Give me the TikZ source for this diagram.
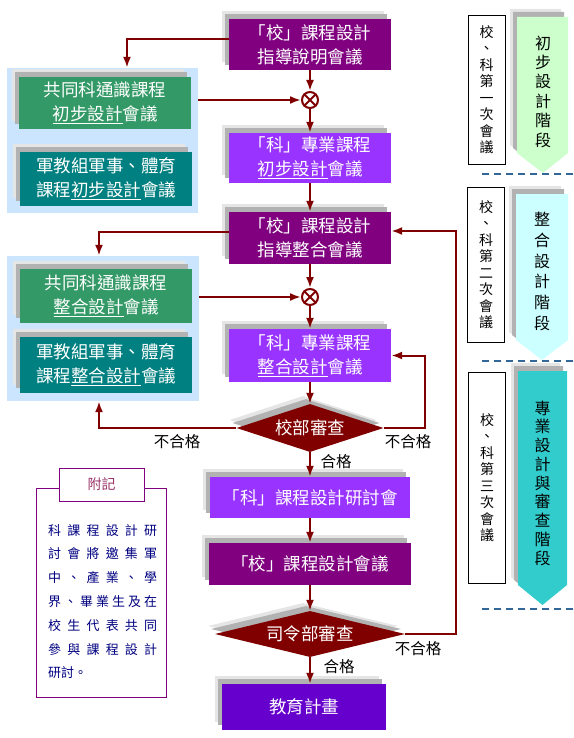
\documentclass[tikz,border=0pt]{standalone}
\usepackage{fontspec}
\setmainfont{Noto Sans CJK TC}
\usetikzlibrary{arrows.meta,shapes.geometric,shadows}
\definecolor{schpurple}{HTML}{800080}
\definecolor{deppurple}{HTML}{9933FF}
\definecolor{edupurple}{HTML}{6600CC}
\definecolor{gengreen}{HTML}{339966}
\definecolor{milteal}{HTML}{008080}
\definecolor{panelblue}{HTML}{CCE5FF}
\definecolor{linered}{HTML}{800000}
\definecolor{dashblue}{HTML}{336699}
\definecolor{notenavy}{HTML}{000080}
\definecolor{notetitle}{HTML}{993366}
\definecolor{stagegreen}{HTML}{CCFFCC}
\definecolor{stagecyan}{HTML}{CCFFFF}
\definecolor{stageteal}{HTML}{33CCCC}
\begin{document}
\begin{tikzpicture}[x=1pt,y=-1pt,
  shade box/.style={general shadow={fill=black!10,shadow xshift=-7pt,shadow yshift=8pt},
    general shadow={fill=black!30,shadow xshift=-4pt,shadow yshift=5pt}},
  box/.style={shade box,fill=#1,text=white,minimum width=162pt,minimum height=51pt,
    inner sep=0pt,align=center,font=\fontsize{17.5}{24}\selectfont},
  side/.style={box=#1,minimum width=172pt},
  check/.style={diamond,aspect=4,shade box,fill=linered,text=white,inner sep=0pt,
    font=\fontsize{17.5}{20}\selectfont},
  panel/.style={fill=panelblue,inner sep=0pt},
  merge/.style={circle,draw=linered,line width=2pt,minimum size=16pt,inner sep=0pt},
  arr/.style={linered,line width=2pt,-{Latex[length=11pt,width=8pt]}},
  lbl/.style={font=\fontsize{15.5}{15}\selectfont,inner sep=0pt},
  meeting/.style={draw,line width=0.8pt,minimum width=37pt,inner sep=0pt,align=center,
    font=\fontsize{14}{16.5}\selectfont},
  stage/.style={align=center,inner sep=0pt,font=\fontsize{16}{#1}\selectfont},
  stage line/.style={dashblue,line width=1.5pt,dash pattern=on 7pt off 5pt}]
\useasboundingbox (0,0) rectangle (573,738);

% left groups
\node[panel,minimum width=191pt,minimum height=145pt] (grp1) at (102.5,140.5) {};
\node[panel,minimum width=192pt,minimum height=145pt] (grp2) at (103,328.5) {};
\node[side=gengreen,minimum height=52pt] (gen1) at (105,103) {共同科通識課程\\\underline{初步設計}會議};
\node[side=milteal,minimum height=54pt] (mil1) at (106,179) {軍教組軍事、體育\\課程\underline{初步設計}會議};
\node[side=gengreen,minimum height=54pt] (gen2) at (106,296) {共同科通識課程\\\underline{整合設計}會議};
\node[side=milteal,minimum height=56pt] (mil2) at (106,365) {軍教組軍事、體育\\課程\underline{整合設計}會議};

% main flow
\node[box=schpurple] (sch1) at (310,44.5) {「校」課程設計\\指導說明會議};
\node[merge] (x1) at (310,100) {};
\node[box=deppurple,minimum height=50pt] (dep1) at (310,158) {「科」專業課程\\\underline{初步設計}會議};
\node[box=schpurple,minimum height=52pt] (sch2) at (310,238) {「校」課程設計\\指導整合會議};
\node[merge] (x2) at (310,297) {};
\node[box=deppurple,minimum height=53pt] (dep2) at (310,355.5) {「科」專業課程\\\underline{整合設計}會議};
\node[check,minimum width=147pt,minimum height=48pt] (dia1) at (310,428) {校部審查};
\node[box=deppurple,minimum width=200pt,minimum height=41pt] (dep3) at (310,497.5) {「科」課程設計研討會};
\node[box=schpurple,minimum width=202pt,minimum height=42pt] (sch3) at (310,564) {「校」課程設計會議};
\node[check,minimum width=190pt,minimum height=46pt] (dia2) at (310,634) {司令部審查};
\node[box=edupurple,minimum width=164pt,minimum height=46pt] (edu) at (304,707) {教育計畫};
\draw[linered,line width=2pt] (x1.north west) -- (x1.south east) (x1.north east) -- (x1.south west);
\draw[linered,line width=2pt] (x2.north west) -- (x2.south east) (x2.north east) -- (x2.south west);

% connectors
\draw[arr] ([yshift=5pt]sch1.west) -| ([xshift=24.5pt]grp1.north);
\draw[arr] (sch1.south) -- (x1.north);
\draw[arr] (grp1.east |- x1) -- (x1.west);
\draw[arr] (x1.south) -- (dep1.north);
\draw[arr] (dep1.south) -- (sch2.north);
\draw[arr] ([yshift=6pt]sch2.west) -| ([xshift=-4pt]grp2.north);
\draw[arr] (sch2.south) -- (x2.north);
\draw[arr] (grp2.east |- x2) -- (x2.west);
\draw[arr] (x2.south) -- (dep2.north);
\draw[arr] (dep2.south) -- (dia1.north);
\draw[arr] (dia1.west) -| ([xshift=-4pt]grp2.south);
\draw[arr] (dia1.east) -- ++(41,0) |- (dep2.east);
\draw[arr] (dia1.south) -- (dep3.north);
\draw[arr] (dep3.south) -- (sch3.north);
\draw[arr] (sch3.south) -- (dia2.north);
\draw[arr] (dia2.east) -- ++(51,0) |- ([yshift=7pt]sch2.east);
\draw[arr] (dia2.south) -- (dia2.south |- edu.north);
\node[lbl] (fail1) at (177,442) {不合格};
\node[lbl] (fail2) at (408,442) {不合格};
\node[lbl] (pass1) at (336,462) {合格};
\node[lbl] (fail3) at (418,649) {不合格};
\node[lbl] (pass2) at (339,667) {合格};

% note
\node[draw=schpurple,line width=1pt,minimum width=130pt,minimum height=209pt] (note) at (101,592.5) {};
\node[draw=schpurple,line width=1pt,fill=white,minimum width=85pt,minimum height=33pt,
  text=notetitle,font=\fontsize{14}{14}\selectfont] (notehead) at (101.5,484.5) {附記};
\node[anchor=north west,inner sep=0pt,align=left,text=notenavy,
  font=\fontsize{13}{23.8}\selectfont] (notetext) at (48,524) {%
  \makebox[109pt][s]{科\hfill 課\hfill 程\hfill 設\hfill 計\hfill 研}\\
  \makebox[109pt][s]{討\hfill 會\hfill 將\hfill 邀\hfill 集\hfill 軍}\\
  \makebox[109pt][s]{中\hfill 、\hfill 產\hfill 業\hfill 、\hfill 學}\\
  \makebox[109pt][s]{界\hfill 、\hfill 畢\hfill 業\hfill 生\hfill 及\hfill 在}\\
  \makebox[109pt][s]{校\hfill 生\hfill 代\hfill 表\hfill 共\hfill 同}\\
  \makebox[109pt][s]{參\hfill 與\hfill 課\hfill 程\hfill 設\hfill 計}\\
  研討。};

% stages
\node[meeting,minimum height=149pt] (meet1) at (486.5,89.5) {校\\、\\科\\第\\一\\次\\會\\議};
\node[meeting,minimum height=155pt] (meet2) at (486,264.5) {校\\、\\科\\第\\二\\次\\會\\議};
\node[meeting,minimum height=211pt] (meet3) at (487,477.5) {校\\、\\科\\第\\三\\次\\會\\議};
\fill[stagegreen,shade box] (517,17) -- (568,17) -- (568,153) -- (543,173) -- (517,153) -- cycle;
\fill[stagecyan,shade box] (516,194) -- (568,194) -- (568,340) -- (542,360) -- (516,340) -- cycle;
\fill[stageteal,shade box] (518,371) -- (567,371) -- (567,585) -- (542.5,605) -- (518,585) -- cycle;
\node[stage=19.4] (stage1) at (543,91.5) {初\\步\\設\\計\\階\\段};
\node[stage=20.7] (stage2) at (542,271.5) {整\\合\\設\\計\\階\\段};
\node[stage=18.75] (stage3) at (542.5,483) {專\\業\\設\\計\\與\\審\\查\\階\\段};
\draw[stage line] (482,174) -- (573,174);
\draw[stage line] (482,361) -- (573,361);
\draw[stage line] (482,609) -- (573,609);
\end{tikzpicture}
\end{document}
